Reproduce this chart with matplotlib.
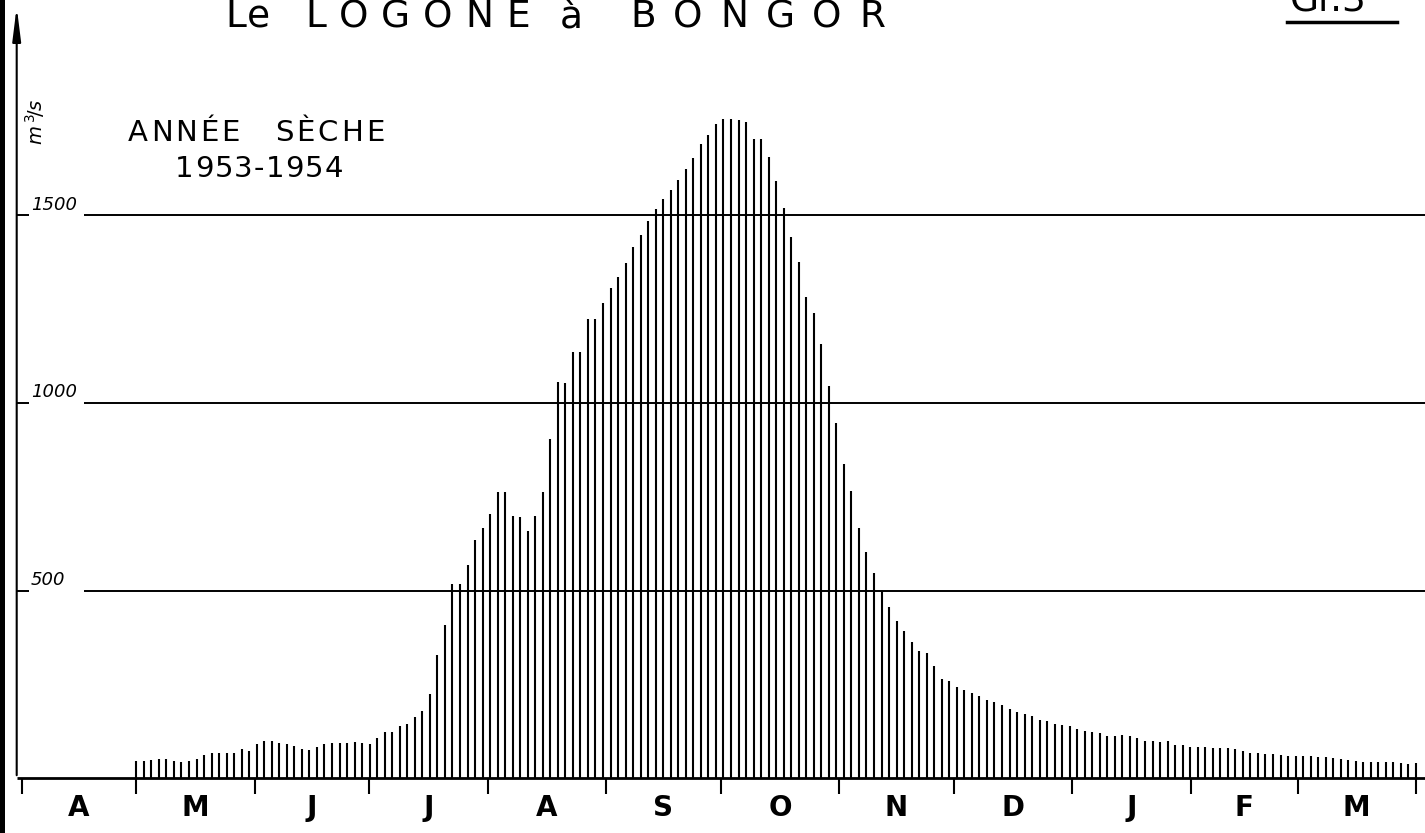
import numpy as np
import matplotlib.pyplot as plt
from matplotlib.patches import Rectangle
from matplotlib.lines import Line2D

# ---------------------------------------------------------------- data
months = ["A", "M", "J", "J", "A", "S", "O", "N", "D", "J", "F", "M"]
month_len = [30, 31, 30, 31, 31, 30, 31, 30, 31, 31, 28, 31]

# debits (m3/s), un baton tous les deux jours, du 1er mai au 1er avril
q_low = [45, 45, 48, 50, 51, 46, 43, 46, 51, 61, 67, 66, 68, 67, 77,
         71, 91, 98, 99, 94, 91, 85, 78, 74, 84, 91, 94, 94, 94, 96]
q_rise = [94, 92, 108, 124, 123, 138, 143, 163, 179, 225, 327, 407, 518, 517, 567,
          634, 667, 704, 762, 762, 700, 695, 658, 698, 762, 905, 1055, 1053, 1137, 1137,
          1225, 1225]
q_flood = [1266, 1307, 1335, 1373, 1415, 1448, 1485, 1516, 1545, 1568, 1595, 1623, 1652,
           1690, 1714, 1743, 1758, 1756, 1754, 1750, 1703, 1703, 1657, 1592, 1520, 1443,
           1375, 1282, 1240, 1158, 1045, 947, 838]
q_fall = [764, 667, 604, 547, 499, 455, 420, 392, 363, 339, 333, 300, 264, 258, 242, 235,
          226, 218, 209, 202, 194, 183, 175, 171, 165, 156, 152, 144, 141, 138, 130, 125]
q_dry = [123, 119, 113, 111, 115, 112, 106, 99, 98, 95, 99, 88, 88, 83, 82, 82, 79, 79,
         79, 77, 71, 67, 66, 65, 64, 61, 59, 59, 58, 58, 57, 56, 54, 51, 49, 46, 43, 42,
         43, 43, 42, 41, 38, 41]

grid_levels = [500, 1000, 1500]
grid_labels = ["500", "1000", "1500"]

# ---------------------------------------------------------------- layout
W, H = 1425, 833
x0_px, px_day = 21.7, 3.82       # 1er avril, pixels par jour
y0_px, px_unit = 778, 0.375      # zero, pixels par m3/s
axis_px = 16.7

def dx(px):
    return (px - x0_px) / px_day

def dy(py):
    return (y0_px - py) / px_unit

q = q_low + q_rise + q_flood + q_fall + q_dry
edges = np.concatenate([[0], np.cumsum(month_len)])
mids = (edges[:-1] + edges[1:]) / 2
x = np.linspace(edges[1], edges[-1], len(q))

fig = plt.figure(figsize=(W / 100, H / 100), dpi=100)
renderer = fig.canvas.get_renderer()
ax = fig.add_axes([axis_px / W, (H - y0_px) / H, (W - axis_px) / W, y0_px / H])
ax.set_xlim(dx(axis_px), dx(W))
ax.set_ylim(0, dy(0))
ax.axis("off")


def word(x_start, x_end, y_base, s, size):
    # lettrage espace : un mot etale entre x_start et x_end (pixels)
    parts = [fig.text(0, 0, ch, fontsize=size, color="black", va="baseline")
             for ch in s]
    widths = [p.get_window_extent(renderer).width for p in parts]
    gap = (x_end - x_start - sum(widths)) / max(len(s) - 1, 1)
    xp = x_start
    for p, w in zip(parts, widths):
        p.set_position((xp / W, 1 - y_base / H))
        xp += w + gap


# batons
ax.vlines(x, 0, q, color="black", lw=1.5)

# lignes horizontales
for lev, lab in zip(grid_levels, grid_labels):
    ax.hlines(lev, dx(84), dx(W), color="black", lw=1.4)
    ax.hlines(lev, dx(axis_px), dx(29), color="black", lw=1.4)
    ax.text(dx(31), lev + 4, lab, ha="left", va="bottom", fontsize=13,
            style="italic", color="black")

# axe des temps
ax.hlines(0, dx(axis_px), dx(W), color="black", lw=2, clip_on=False)
for e in edges:
    ax.vlines(e, dy(794), 0, color="black", lw=1.5, clip_on=False)
for m, lab in zip(mids, months):
    ax.text(m, dy(808), lab, ha="center", va="center", fontsize=20,
            fontweight="bold", color="black", clip_on=False)

# axe des debits avec fleche
ax.annotate("", xy=(dx(axis_px), dy(4)), xytext=(dx(axis_px), 0),
            arrowprops=dict(arrowstyle="-|>,head_length=2.0,head_width=0.25",
                            color="black", lw=1.5, mutation_scale=10),
            annotation_clip=False)
ax.text(dx(35), dy(122), r"$m^{\,3}\!/s$", rotation=90, ha="center", va="center",
        fontsize=14, color="black")

# textes
word(128, 240, 141, "ANNÉE", 21)
word(275, 384, 141, "SÈCHE", 21)
word(175, 343, 177, "1953-1954", 21)
word(225, 270, 27, "Le", 27)
word(305, 530, 27, "LOGONE", 27)
word(560, 582, 27, "à", 27)
word(630, 885, 27, "BONGOR", 27)
fig.text(1290 / W, 1 - 12 / H, "Gr.3", ha="left", va="baseline",
         fontsize=27, color="black")
fig.add_artist(Line2D([1287 / W, 1397 / W], [1 - 22 / H, 1 - 22 / H],
                      color="black", lw=2.5))

# bord du scan
fig.add_artist(Rectangle((0, 0), 5 / W, 1, transform=fig.transFigure,
                         color="black", lw=0))

fig.savefig("out.png", dpi=100)
